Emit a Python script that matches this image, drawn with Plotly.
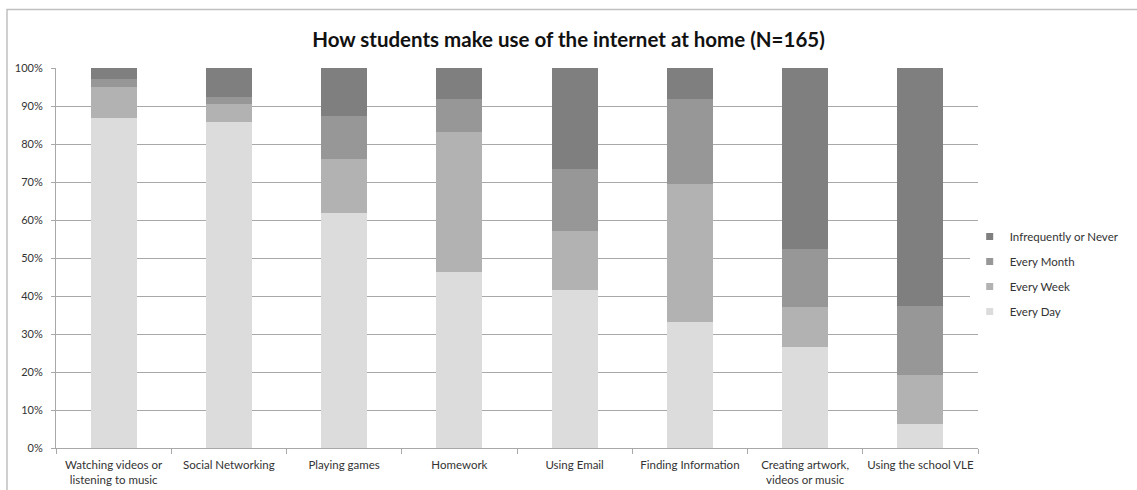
import plotly.graph_objects as go

categories = [
    "Watching videos or<br>listening to music",
    "Social Networking",
    "Playing games",
    "Homework",
    "Using Email",
    "Finding Information",
    "Creating artwork,<br>videos or music",
    "Using the school VLE",
]
every_day = [86.9, 85.9, 61.8, 46.4, 41.5, 33.2, 26.5, 6.3]
every_week = [8.0, 4.6, 14.2, 36.8, 15.6, 36.2, 10.6, 12.9]
every_month = [2.1, 2.0, 11.5, 8.7, 16.2, 22.5, 15.4, 18.2]
never = [3.0, 7.5, 12.5, 8.1, 26.7, 8.1, 47.5, 62.6]

series = [
    ("Every Day", every_day, "#dcdcdc"),
    ("Every Week", every_week, "#b2b2b2"),
    ("Every Month", every_month, "#979797"),
    ("Infrequently or Never", never, "#7f7f7f"),
]

FONT = "Lato, 'Open Sans', sans-serif"

fig = go.Figure()
for name, vals, col in series:
    fig.add_trace(go.Bar(
        x=categories, y=vals, name=name,
        marker=dict(color=col, line=dict(width=0)),
        legendgroup=name, showlegend=False,
    ))
# legend entries with small square swatches (top entry = top of stack)
for name, vals, col in reversed(series):
    fig.add_trace(go.Scatter(
        x=[None], y=[None], mode="markers", name=name,
        marker=dict(symbol="square", size=7, color=col),
        legendgroup=name, showlegend=True,
    ))

fig.update_layout(
    width=1137, height=490,
    barmode="stack", bargap=0.6,
    paper_bgcolor="white", plot_bgcolor="white",
    margin=dict(l=56, r=159, t=68, b=42, autoexpand=False),
    title=dict(text="<b>How students make use of the internet at home (N=165)</b>",
               x=0.5, xref="container", xanchor="center", y=0.918, yanchor="middle",
               font=dict(family=FONT, size=20.5, color="#111111")),
    font=dict(family=FONT, size=11, color="#333333"),
    legend=dict(x=0.991, xanchor="left", y=0.458, yanchor="middle",
                traceorder="grouped", tracegroupgap=6,
                font=dict(family=FONT, size=11.5, color="#333333"),
                itemwidth=30),
    showlegend=True,
)
fig.update_yaxes(range=[0, 100], dtick=10, ticksuffix="%",
                 showgrid=True, gridcolor="#a8a8a8", gridwidth=1,
                 showline=True, linecolor="#a8a8a8", linewidth=1,
                 ticks="outside", ticklen=4, tickcolor="#a8a8a8",
                 ticklabelstandoff=6, automargin=False,
                 zeroline=False, tickfont=dict(size=11, color="#333333"))
fig.update_xaxes(showline=True, linecolor="#a8a8a8", linewidth=1,
                 ticks="outside", tickson="boundaries", ticklen=5, tickcolor="#a8a8a8",
                 ticklabelstandoff=6, tickangle=0, automargin=False,
                 showgrid=False, tickfont=dict(size=11.5, color="#333333"))

# outer chart frame
fig.add_shape(type="rect", xref="paper", yref="paper",
              x0=-49 / 922, y0=-1.0, x1=2.0, y1=(448 - 9.5) / 380,
              line=dict(color="#c0c0c0", width=1.5), fillcolor="rgba(0,0,0,0)",
              layer="below")

fig.write_html("out.html", config={"displayModeBar": False},
               post_script="document.body.style.margin='0';document.body.style.overflow='hidden';")
